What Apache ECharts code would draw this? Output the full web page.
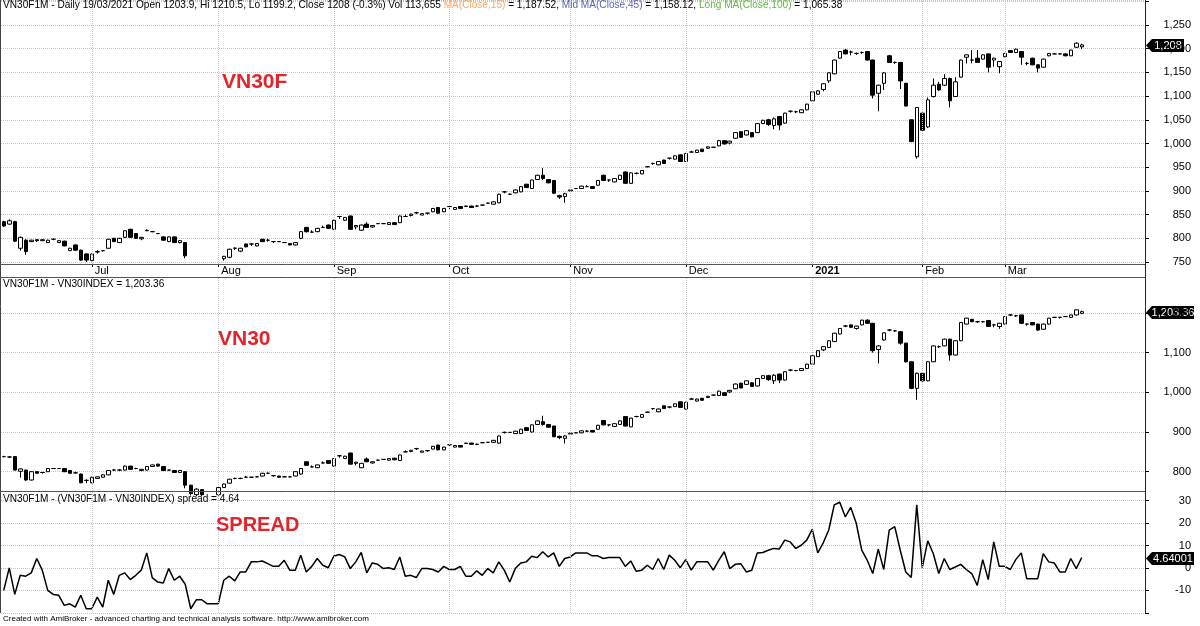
<!DOCTYPE html>
<html>
<head>
<meta charset="utf-8">
<script src="https://cdn.jsdelivr.net/npm/echarts@6/dist/echarts.min.js"></script>
<style>
html, body { margin: 0; padding: 0; background: #fff; }
#chart { width: 1200px; height: 626px; }
</style>
</head>
<body>
<div id="chart"></div>
<script>
// trading calendar (HOSE), first bar 09/06/2020
var firstDay = '2020-06-09';
var holidays = ['2020-09-02', '2021-01-01', '2021-02-10', '2021-02-11', '2021-02-12', '2021-02-15', '2021-02-16'];
var emptyBars = 11;
var monthNames = ['Jan', 'Feb', 'Mar', 'Apr', 'May', 'Jun', 'Jul', 'Aug', 'Sep', 'Oct', 'Nov', 'Dec'];

// [open, close, low, high]
var vn30f = [
  [835, 826, 824, 837], [830, 837, 828, 840], [835, 794, 792, 837], [779, 802, 774, 804], [796, 772, 765, 798],
  [793, 796, 792, 797], [797, 795, 792, 798], [795, 797, 794, 798], [791, 796, 790, 797], [798, 798, 796, 800],
  [791, 795, 790, 796], [794, 784, 783, 795], [774, 779, 773, 780], [786, 775, 774, 787], [775, 754, 752, 776],
  [767, 754, 750, 768], [753, 767, 752, 768], [771, 772, 768, 775], [774, 774, 772, 775], [779, 798, 778, 799],
  [800, 793, 792, 801], [791, 800, 790, 801], [802, 816, 801, 817], [819, 802, 801, 820], [810, 800, 799, 811],
  [799, 802, 796, 803], [816, 817, 815, 819], [814, 814, 813, 815], [810, 810, 809, 811], [803, 796, 795, 804],
  [793, 803, 792, 804], [803, 791, 790, 804], [791, 795, 789, 796], [791, 763, 758, 792], [740, 727, 722, 744],
  [728, 742, 722, 744], [740, 728, 724, 743], [727, 719, 715, 730], [719, 724, 714, 728], [726, 742, 724, 744],
  [757, 762, 753, 763], [760, 777, 758, 778], [779, 779, 775, 781], [773, 779, 771, 780], [788, 782, 781, 789],
  [788, 788, 784, 789], [784, 789, 783, 790], [798, 793, 792, 799], [796, 796, 793, 799], [793, 793, 790, 794],
  [793, 793, 792, 794], [791, 791, 790, 792], [789, 786, 785, 790], [786, 791, 785, 792], [800, 814, 798, 815],
  [823, 814, 812, 824], [813, 813, 812, 817], [814, 821, 813, 822], [823, 823, 822, 827], [828, 821, 820, 829],
  [819, 838, 818, 839], [846, 846, 841, 847], [838, 844, 837, 845], [847, 819, 818, 848], [824, 827, 819, 828],
  [817, 828, 816, 829], [830, 823, 822, 834], [824, 827, 822, 828], [831, 831, 830, 832], [831, 831, 830, 832],
  [829, 833, 828, 834], [833, 829, 828, 834], [833, 847, 832, 848], [846, 846, 845, 850], [848, 851, 846, 852],
  [854, 854, 851, 856], [849, 852, 849, 853], [853, 853, 850, 854], [856, 863, 855, 864], [865, 853, 852, 866],
  [856, 863, 855, 864], [867, 867, 862, 868], [861, 865, 860, 866], [867, 863, 862, 868], [867, 868, 866, 869],
  [868, 865, 864, 869], [868, 868, 866, 870], [870, 870, 869, 871], [874, 874, 873, 875], [872, 877, 871, 878],
  [875, 893, 874, 894], [898, 898, 895, 900], [893, 893, 892, 894], [896, 902, 895, 903], [898, 909, 897, 910],
  [914, 907, 906, 915], [905, 923, 904, 924], [924, 933, 923, 934], [933, 926, 923, 948], [924, 917, 916, 925],
  [922, 895, 894, 923], [890, 887, 883, 892], [888, 894, 875, 896], [900, 902, 899, 903], [905, 905, 904, 906],
  [905, 910, 904, 911], [909, 909, 908, 912], [909, 905, 904, 910], [912, 922, 911, 923], [933, 922, 921, 934],
  [923, 923, 919, 924], [919, 926, 918, 927], [924, 933, 923, 934], [940, 916, 915, 941], [916, 938, 915, 939],
  [937, 937, 935, 939], [936, 943, 935, 944], [951, 951, 950, 952], [958, 958, 955, 959], [955, 962, 954, 963],
  [965, 958, 957, 966], [969, 969, 966, 970], [967, 974, 966, 975], [976, 962, 961, 977], [962, 979, 961, 980],
  [982, 982, 981, 985], [981, 986, 980, 987], [988, 983, 982, 989], [990, 993, 989, 994], [992, 992, 991, 993],
  [995, 1006, 994, 1007], [1006, 999, 998, 1007], [1001, 1005, 998, 1006], [1011, 1023, 1010, 1024], [1025, 1013, 1012, 1026],
  [1018, 1027, 1017, 1028], [1023, 1014, 1013, 1024], [1023, 1042, 1022, 1043], [1042, 1049, 1041, 1050], [1050, 1040, 1037, 1052],
  [1038, 1052, 1030, 1055], [1057, 1039, 1028, 1058], [1043, 1064, 1042, 1065], [1068, 1068, 1065, 1070], [1067, 1067, 1064, 1069],
  [1065, 1071, 1064, 1072], [1071, 1083, 1070, 1084], [1090, 1109, 1089, 1110], [1104, 1111, 1103, 1112], [1114, 1126, 1110, 1127],
  [1132, 1149, 1128, 1150], [1147, 1176, 1146, 1177], [1180, 1194, 1179, 1195], [1197, 1189, 1188, 1199], [1193, 1193, 1186, 1196],
  [1190, 1190, 1187, 1192], [1192, 1192, 1189, 1194], [1194, 1176, 1175, 1195], [1176, 1102, 1095, 1177], [1106, 1123, 1068, 1124],
  [1127, 1149, 1113, 1150], [1185, 1171, 1170, 1187], [1171, 1171, 1168, 1173], [1171, 1132, 1115, 1172], [1127, 1079, 1078, 1128],
  [1050, 1004, 1003, 1051], [972, 1076, 968, 1077], [1064, 1028, 1027, 1065], [1035, 1092, 1033, 1097], [1099, 1123, 1097, 1137],
  [1125, 1113, 1111, 1130], [1123, 1137, 1121, 1146], [1137, 1090, 1076, 1139], [1099, 1130, 1098, 1140], [1140, 1176, 1139, 1177],
  [1182, 1187, 1169, 1188], [1176, 1176, 1169, 1197], [1180, 1171, 1170, 1197], [1178, 1187, 1177, 1188], [1189, 1161, 1150, 1190],
  [1176, 1180, 1162, 1181], [1162, 1173, 1148, 1174], [1183, 1190, 1182, 1191], [1196, 1192, 1191, 1197], [1192, 1199, 1191, 1200],
  [1194, 1182, 1166, 1195], [1169, 1169, 1165, 1172], [1180, 1166, 1165, 1181], [1166, 1159, 1150, 1167], [1161, 1178, 1160, 1179],
  [1185, 1190, 1184, 1191], [1189, 1189, 1188, 1190], [1189, 1189, 1188, 1190], [1189, 1185, 1184, 1190], [1185, 1197, 1184, 1198],
  [1203, 1211.6, 1202, 1213], [1203.9, 1208, 1199.2, 1210.5]
];

var vn30 = [
  [838, 838, 836, 840], [837, 837, 835, 839], [838, 804, 803, 839], [801, 807, 785, 808], [804, 779, 777, 805],
  [779, 800, 778, 801], [800, 796, 795, 801], [798, 798, 795, 799], [800, 808, 799, 809], [808, 808, 807, 809],
  [808, 808, 807, 809], [808, 800, 799, 809], [803, 796, 795, 804], [797, 797, 796, 800], [794, 772, 771, 795],
  [778, 778, 771, 781], [772, 786, 771, 787], [783, 787, 782, 788], [786, 792, 785, 793], [792, 803, 791, 804],
  [804, 804, 803, 807], [804, 804, 802, 806], [804, 814, 803, 815], [814, 806, 805, 815], [808, 808, 806, 810],
  [803, 806, 801, 807], [804, 813, 803, 814], [813, 817, 812, 818], [819, 814, 813, 820], [813, 803, 802, 814],
  [804, 804, 803, 805], [803, 798, 797, 804], [798, 803, 797, 804], [800, 766, 758, 801], [766, 745, 740, 767],
  [742, 756, 738, 758], [755, 742, 738, 756], [742, 735, 730, 745], [735, 740, 731, 744], [742, 760, 740, 761],
  [760, 769, 759, 770], [771, 781, 770, 782], [783, 783, 781, 785], [783, 783, 781, 785], [786, 786, 785, 789],
  [786, 786, 785, 787], [787, 787, 786, 788], [789, 796, 788, 797], [796, 796, 794, 798], [790, 790, 787, 791],
  [789, 786, 785, 790], [787, 787, 786, 788], [787, 787, 786, 788], [789, 800, 788, 801], [794, 808, 792, 809],
  [825, 816, 814, 826], [812, 812, 811, 816], [810, 817, 809, 818], [822, 822, 821, 826], [828, 821, 820, 829],
  [814, 833, 813, 834], [840, 840, 835, 841], [833, 839, 832, 840], [847, 819, 818, 848], [821, 824, 816, 825],
  [810, 821, 809, 822], [832, 825, 824, 836], [822, 825, 820, 826], [829, 829, 828, 830], [831, 831, 830, 832],
  [829, 833, 828, 834], [834, 830, 829, 835], [828, 842, 827, 843], [850, 850, 849, 854], [851, 854, 849, 855],
  [858, 858, 855, 860], [849, 852, 849, 853], [853, 853, 850, 854], [857, 864, 856, 865], [867, 855, 854, 868],
  [855, 862, 854, 863], [868, 868, 863, 869], [862, 866, 861, 867], [866, 862, 861, 867], [871, 872, 870, 873],
  [872, 869, 868, 873], [869, 869, 867, 871], [873, 873, 872, 874], [874, 874, 873, 875], [874, 879, 873, 880],
  [872, 890, 871, 891], [899, 899, 896, 901], [899, 899, 898, 900], [896, 902, 895, 903], [896, 907, 895, 908],
  [911, 904, 903, 912], [900, 918, 899, 919], [919, 928, 918, 929], [926, 919, 916, 941], [919, 912, 911, 920],
  [915, 888, 887, 916], [889, 886, 882, 891], [884, 890, 871, 892], [895, 897, 894, 898], [898, 898, 897, 899],
  [898, 903, 897, 904], [902, 902, 901, 905], [904, 900, 899, 905], [907, 917, 906, 918], [929, 918, 917, 930],
  [918, 918, 914, 919], [914, 921, 913, 922], [919, 928, 918, 929], [939, 915, 914, 940], [913, 935, 912, 936],
  [939, 939, 937, 941], [937, 944, 936, 945], [950, 950, 949, 951], [959, 959, 956, 960], [951, 958, 950, 959],
  [966, 959, 958, 967], [963, 963, 960, 964], [964, 971, 963, 972], [976, 962, 961, 977], [958, 975, 957, 976],
  [983, 983, 982, 986], [978, 983, 977, 984], [985, 980, 979, 986], [987, 990, 986, 991], [993, 993, 992, 994],
  [992, 1003, 991, 1004], [999, 992, 991, 1000], [1001, 1005, 998, 1006], [1009, 1021, 1008, 1022], [1023, 1011, 1010, 1024],
  [1020, 1029, 1019, 1030], [1024, 1015, 1014, 1025], [1016, 1035, 1015, 1036], [1035, 1042, 1034, 1043], [1042, 1032, 1029, 1044],
  [1029, 1043, 1021, 1046], [1046, 1031, 1023, 1047], [1031, 1052, 1030, 1053], [1056, 1056, 1053, 1058], [1055, 1055, 1053, 1056],
  [1055, 1060, 1054, 1061], [1060, 1071, 1059, 1072], [1071, 1092, 1070, 1093], [1090, 1105, 1089, 1106], [1107, 1115, 1104, 1116],
  [1113, 1130, 1112, 1131], [1128, 1149, 1127, 1150], [1147, 1161, 1146, 1162], [1167, 1167, 1164, 1170], [1170, 1164, 1163, 1171],
  [1161, 1167, 1158, 1168], [1170, 1182, 1169, 1183], [1182, 1174, 1173, 1184], [1174, 1105, 1100, 1175], [1108, 1117, 1073, 1118],
  [1132, 1150, 1130, 1151], [1157, 1157, 1154, 1159], [1155, 1155, 1152, 1157], [1153, 1124, 1120, 1154], [1124, 1077, 1075, 1125],
  [1077, 1010, 1008, 1078], [1010, 1048, 981, 1050], [1048, 1029, 1027, 1049], [1029, 1077, 1028, 1078], [1077, 1117, 1076, 1118],
  [1115, 1115, 1112, 1118], [1117, 1134, 1116, 1135], [1134, 1094, 1080, 1135], [1094, 1130, 1093, 1131], [1130, 1176, 1129, 1177],
  [1172, 1187, 1171, 1188], [1184, 1178, 1177, 1185], [1178, 1178, 1175, 1180], [1178, 1178, 1176, 1180], [1181, 1166, 1165, 1182],
  [1170, 1170, 1164, 1171], [1166, 1174, 1160, 1175], [1172, 1191, 1171, 1192], [1195, 1195, 1192, 1197], [1193, 1193, 1190, 1195],
  [1195, 1174, 1172, 1196], [1172, 1172, 1168, 1173], [1176, 1170, 1169, 1177], [1172, 1157, 1155, 1173], [1159, 1172, 1158, 1173],
  [1172, 1187, 1171, 1188], [1189, 1189, 1188, 1190], [1189, 1189, 1186, 1190], [1191, 1191, 1190, 1192], [1189, 1195, 1188, 1196],
  [1195, 1208, 1194, 1209], [1199, 1203.36, 1197, 1206]
];

var spread = [
  -10, 0, -11.8, -3.3, -3.7, -2.2, 4.2, -1, -10, -11.8,
  -12.2, -16.7, -16, -17.5, -12.2, -18.2, -18.2, -13, -17.5, -5.5,
  -11.8, -3.3, -2.2, -5.2, -3.3, -1, 6.7, -4.3, -6.3, -6.7,
  -0.3, -5.5, -3.7, -7.3, -18.2, -14.2, -14.2, -16, -16, -16,
  -5.5, -3.7, -5.8, -1.8, -1.8, 2.7, 2.7, 3.1, 1.9, 0.7,
  0.7, 3.4, -1, -1, 5.7, -1.8, 0.7, 4.2, 1.2, 0.1,
  5.2, 6, 4.9, -0.3, 2.7, 6.9, -2.2, 2.2, 1.6, -0.3,
  0.1, -0.7, 4.9, -3.7, -3.3, -4.3, -0.3, -0.3, -0.7, -1.8,
  0.7, -0.7, -0.7, 0.7, -3.7, -3.7, -1.3, -3.3, -0.3, -2.2,
  2.7, -1, -6.3, -0.3, 2.2, 2.7, 5.2, 4.6, 7.2, 4.9,
  6.7, 0.7, 4.2, 4.9, 6.7, 6.7, 6.7, 5.4, 5.4, 4.2,
  4.6, 4.6, 4.6, 0.7, 3.1, -1.5, -1, 1.2, -0.7, 4.2,
  -0.7, 5.7, 3.4, 0.1, 3.7, -1, 2.7, 2.7, 2.7, -1,
  3.4, 7.2, -0.3, 1.6, 1.9, -1.8, -1, 6.7, 6.9, 7.9,
  8.7, 8.4, 12.4, 11.6, 8.7, 10.1, 12.4, 17.2, 6.7, 11.2,
  16.9, 28.1, 29.3, 22.8, 27, 19.9, 7.9, 3.4, -2.5, 8.4,
  -0.7, 16.9, 18.4, 7.9, -1.8, -4.3, 28.1, 0.1, 12.1, 6.4,
  -2.5, 4.2, -0.7, 0.4, 1.6, -0.7, -2.5, -7.8, 3.7, -5.2,
  11.6, 0.7, 0.7, -0.7, 3.7, 6.7, -4.8, -4.8, -4.8, 6.4,
  2.7, 2.2, -1.8, -1.8, 4.2, -0.3, 4.64
];

var priceTicks = [750, 1250];
var indexTicks = [800, 1200];
var spreadTicks = [-10, 30];

var FONT = '"Liberation Sans", Arial, sans-serif';
var RED = '#e0262c';
var GRIDLINE = '#c4c4c4';
var HEAD = '10.1px ' + FONT;

function tradingDays(start, count) {
  var out = [];
  var d = new Date(start + 'T00:00:00Z');
  while (out.length < count) {
    var dow = d.getUTCDay();
    var s = d.toISOString().slice(0, 10);
    if (dow !== 0 && dow !== 6 && holidays.indexOf(s) < 0) out.push(s);
    d.setUTCDate(d.getUTCDate() + 1);
  }
  return out;
}

var dates = tradingDays(firstDay, vn30f.length);
var cats = dates.slice();
for (var k = 0; k < emptyBars; k++) cats.push('pad' + k);

var monthStarts = [];
for (var i = 1; i < dates.length; i++) {
  if (dates[i].slice(5, 7) !== dates[i - 1].slice(5, 7)) monthStarts.push(i);
}
function isMonthStart(idx) { return monthStarts.indexOf(idx) >= 0; }
function monthLabel(val) {
  var m = parseInt(val.slice(5, 7), 10) - 1;
  if (m === 0) return '{y|' + val.slice(0, 4) + '}';
  return monthNames[m];
}

function monthLines() {
  return {
    silent: true,
    symbol: ['none', 'none'],
    animation: false,
    label: { show: false },
    lineStyle: { color: GRIDLINE, type: 'dotted', width: 1 },
    emphasis: { disabled: true },
    data: monthStarts.map(function (idx) { return { xAxis: dates[idx] }; })
  };
}

function xAxisFor(grid, withLabels) {
  return {
    type: 'category', gridIndex: grid, data: cats, boundaryGap: true,
    axisLine: { show: false },
    axisTick: { show: withLabels, alignWithLabel: true, interval: isMonthStart, length: 3, lineStyle: { color: '#000' } },
    axisLabel: {
      show: withLabels, interval: isMonthStart, formatter: monthLabel,
      align: 'left', padding: [0, 0, 0, 3], margin: 1,
      fontSize: 11, color: '#000', fontFamily: FONT,
      rich: { y: { fontWeight: 'bold', fontSize: 11, color: '#000', fontFamily: FONT } }
    },
    splitLine: { show: false }
  };
}

function yAxisFor(grid, min, max, step, shown) {
  return {
    type: 'value', gridIndex: grid, position: 'right',
    min: min, max: max, minInterval: step, maxInterval: step,
    splitNumber: Math.round((max - min) / step),
    axisLine: { show: false },
    axisTick: { show: true, length: 4, lineStyle: { color: '#000' } },
    axisLabel: {
      margin: 46, align: 'right', fontSize: 11, color: '#000', fontFamily: FONT,
      showMinLabel: false, showMaxLabel: false,
      formatter: function (v) {
        if (v < shown[0] - 0.01 || v > shown[1] + 0.01) return '';
        return v.toLocaleString('en-US');
      }
    },
    splitLine: { show: true, lineStyle: { color: GRIDLINE, type: 'dotted', width: 1 } }
  };
}

var candleStyle = { color: '#fff', color0: '#000', borderColor: '#000', borderColor0: '#000', borderWidth: 1 };

var chart = echarts.init(document.getElementById('chart'), null, { renderer: 'canvas' });

var option = {
  animation: false,
  backgroundColor: '#fff',
  textStyle: { fontFamily: FONT },
  grid: [
    { left: 1, top: 0, width: 1144, height: 264, outerBoundsMode: 'none', containLabel: false },
    { left: 1, top: 277, width: 1144, height: 214, outerBoundsMode: 'none', containLabel: false },
    { left: 1, top: 491, width: 1144, height: 122, outerBoundsMode: 'none', containLabel: false }
  ],
  xAxis: [xAxisFor(0, true), xAxisFor(1, false), xAxisFor(2, false)],
  yAxis: [
    yAxisFor(0, 745.8, 1302.7, 50, priceTicks),
    yAxisFor(1, 751.3, 1290.7, 100, indexTicks),
    yAxisFor(2, -20.1, 34.3, 10, spreadTicks)
  ],
  series: [
    {
      type: 'candlestick', name: 'VN30F1M', xAxisIndex: 0, yAxisIndex: 0,
      data: vn30f, barWidth: 4, clip: true, itemStyle: candleStyle,
      markLine: monthLines()
    },
    {
      type: 'candlestick', name: 'VN30INDEX', xAxisIndex: 1, yAxisIndex: 1,
      data: vn30, barWidth: 4, clip: true, itemStyle: candleStyle,
      markLine: monthLines()
    },
    {
      type: 'line', name: 'spread', xAxisIndex: 2, yAxisIndex: 2,
      data: spread, showSymbol: false, symbol: 'none',
      lineStyle: { color: '#000', width: 1.5 },
      markLine: monthLines()
    }
  ]
};
chart.setOption(option);

// last-value tags on the price axis
function tag(yAxisIndex, value, text, w) {
  var y = Math.round(chart.convertToPixel({ yAxisIndex: yAxisIndex }, value)) + 0.5;
  var x0 = 1146;
  return {
    type: 'group', z: 100,
    children: [
      {
        type: 'polygon',
        shape: { points: [[x0, y], [x0 + 6, y - 6.5], [x0 + 6 + w, y - 6.5], [x0 + 6 + w, y + 6.5], [x0 + 6, y + 6.5]] },
        style: { fill: '#000' }
      },
      {
        type: 'text', x: x0 + 6 + w / 2, y: y,
        style: { text: text, fill: '#fff', font: '11px ' + FONT, textAlign: 'center', textVerticalAlign: 'middle' }
      }
    ]
  };
}

function hline(y, x1, x2, color) {
  return { type: 'line', z: 50, shape: { x1: x1, y1: y, x2: x2, y2: y }, style: { stroke: color, lineWidth: 1 } };
}
function vline(x, y1, y2, color) {
  return { type: 'line', z: 50, shape: { x1: x, y1: y1, x2: x, y2: y2 }, style: { stroke: color, lineWidth: 1 } };
}
function label(x, y, text, font, color) {
  return {
    type: 'text', z: 60, x: x, y: y,
    style: { text: text, fill: color, font: font, textVerticalAlign: 'top' }
  };
}

var header = {
  type: 'text', z: 60, x: 3, y: 0.5,
  style: {
    text: 'VN30F1M - Daily 19/03/2021 Open 1203.9, Hi 1210.5, Lo 1199.2, Close 1208 (-0.3%) Vol 113,655 ' +
      '{o|MA(Close,15)} = 1,187.52, {b|Mid MA(Close,45)} = 1,158.12, {g|Long MA(Close,100)} = 1,065.38',
    fill: '#000', font: HEAD, textVerticalAlign: 'top',
    rich: {
      o: { fill: '#f2aa6c', font: HEAD },
      b: { fill: '#5668a8', font: HEAD },
      g: { fill: '#62b544', font: HEAD }
    }
  }
};

chart.setOption({
  graphic: [
    vline(0.5, 0, 613, '#444'),
    vline(1145.5, 0, 613, '#222'),
    hline(264.5, 0, 1145, '#555'),
    hline(277.5, 0, 1145, '#555'),
    hline(491.5, 0, 1145, '#555'),
    header,
    label(3, 279, 'VN30F1M - VN30INDEX = 1,203.36', HEAD, '#000'),
    label(3, 494, 'VN30F1M - (VN30F1M - VN30INDEX) spread = 4.64', HEAD, '#000'),
    label(3, 615, 'Created with AmiBroker - advanced charting and technical analysis software. http://www.amibroker.com', '8px ' + FONT, '#000'),
    label(222, 72, 'VN30F', 'bold 21px ' + FONT, RED),
    label(218, 329, 'VN30', 'bold 21px ' + FONT, RED),
    label(216, 515, 'SPREAD', 'bold 20px ' + FONT, RED),
    tag(0, 1208, '1,208', 32),
    tag(1, 1203.36, '1,203.36', 42),
    tag(2, 4.64, '4.64001', 42)
  ]
});
</script>
</body>
</html>
